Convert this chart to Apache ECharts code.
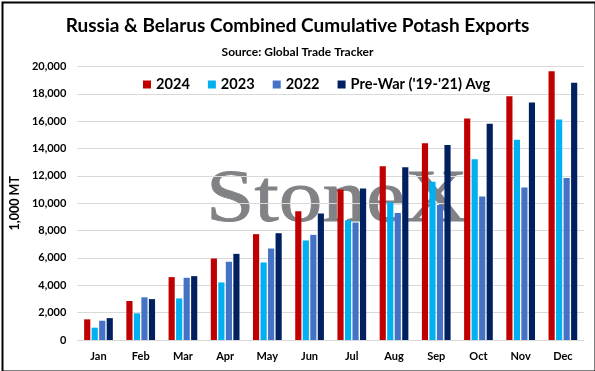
<!DOCTYPE html>
<html><head><meta charset="utf-8">
<script src="https://cdn.jsdelivr.net/npm/echarts@6/dist/echarts.min.js"></script>
<style>html,body{margin:0;padding:0;background:#fff}#c{width:595px;height:371px}</style>
</head><body><div id="c"></div>
<script>
const months = ['Jan','Feb','Mar','Apr','May','Jun','Jul','Aug','Sep','Oct','Nov','Dec'];
const s2024 = [1510,2850,4600,5960,7740,9420,11000,12700,14380,16200,17830,19660];
const s2023 = [900,1950,3040,4210,5670,7280,8760,10070,11580,13210,14650,16130];
const s2022 = [1410,3120,4550,5720,6690,7690,8590,9290,9880,10490,11150,11850];
const sPreWar = [1600,2990,4670,6300,7810,9250,11070,12630,14260,15820,17370,18810];
const seriesNames = ['2024','2023','2022',"Pre-War ('19-'21) Avg"];
const seriesColors = ['#C00000','#00B0F0','#4472C4','#002060'];
const yTicks = {min:0, max:20000, interval:2000};

const FONT = 'Lato';
const chart = echarts.init(document.getElementById('c'), null, {renderer:'canvas'});
const data = [s2024, s2023, s2022, sPreWar];
chart.setOption({
  animation:false,
  textStyle:{fontFamily:FONT},
  title:[
    {text:'Russia & Belarus Combined Cumulative Potash Exports', left:'center', top:11,
     textStyle:{fontFamily:FONT, fontSize:19, fontWeight:'bold', color:'#000'}},
    {text:'Source: Global Trade Tracker', left:'center', top:41,
     textStyle:{fontFamily:FONT, fontSize:12, fontWeight:'bold', color:'#000'}}
  ],
  graphic:[
    {type:'text', x:206, y:165, zlevel:0, z:0, scaleX:1.18, scaleY:1.0,
     style:{text:'StoneX', fontFamily:'Liberation Serif', fontSize:74, fill:'#808285',
            stroke:'#808285', lineWidth:0.8}},
    {type:'rect', left:0, top:0, zlevel:2, shape:{x:1, y:1, width:593, height:369}, style:{fill:null, stroke:'#000', lineWidth:2}},
  ],
  legend:{top:72, left:138, itemWidth:8, itemHeight:8, itemGap:18, icon:'rect',
    textStyle:{fontFamily:FONT, fontSize:14.6, fontWeight:'bold', color:'#000'},
    data:seriesNames},
  grid:{left:73, right:11, top:66.5, bottom:31, containLabel:false},
  xAxis:{type:'category', data:months, zlevel:1,
    axisLine:{lineStyle:{color:'#d9d9d9'}}, axisTick:{show:false},
    axisLabel:{fontFamily:FONT, fontSize:11, fontWeight:'bold', color:'#000', margin:11}},
  yAxis:{type:'value', min:yTicks.min, max:yTicks.max, interval:yTicks.interval, zlevel:1,
    name:'1,000 MT', nameLocation:'middle', nameGap:46, nameRotate:90,
    nameTextStyle:{fontFamily:FONT, fontSize:12.5, fontWeight:'bold', color:'#000'},
    axisLine:{show:false}, axisTick:{show:false},
    splitLine:{lineStyle:{color:'#d9d9d9'}},
    axisLabel:{fontFamily:FONT, fontSize:11, fontWeight:'bold', color:'#000', margin:11,
      formatter:v=>v.toLocaleString('en-US')}},
  series: data.map((d,i)=>({type:'bar', name:seriesNames[i], data:d, zlevel:1, z:5,
    itemStyle:{color:seriesColors[i]}, barGap:'22%', barCategoryGap:'32%'}))
});
</script></body></html>
